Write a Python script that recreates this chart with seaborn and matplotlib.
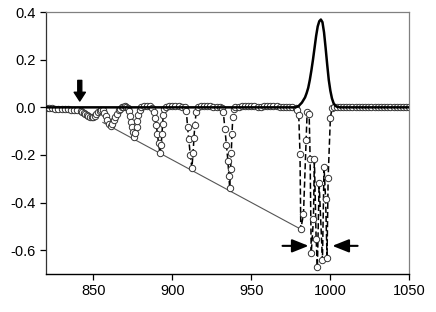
import numpy as np
import pandas as pd
import matplotlib
matplotlib.use("Agg")
import matplotlib.pyplot as plt
import seaborn as sns

# ── solid trace (peak near 994) ─────────────────────────────────────────────
solid_x = [820, 900, 978, 980, 982, 984, 985, 986, 987, 988, 989, 990, 991,
           992, 993, 994, 995, 996, 997, 998, 999, 1000, 1001, 1002, 1003,
           1004, 1006, 1050]
solid_y = [0.0, 0.0, 0.0, 0.006, 0.02, 0.042, 0.06, 0.082, 0.115, 0.155, 0.2,
           0.25, 0.3, 0.34, 0.362, 0.369, 0.358, 0.315, 0.25, 0.18, 0.115,
           0.07, 0.038, 0.018, 0.008, 0.003, 0.0, 0.0]

# ── dashed trace with open circles ──────────────────────────────────────────
dash_x = [820, 822, 824, 826, 828, 830, 832, 834, 836, 838, 840, 842,
          843, 844, 845, 846, 847, 848, 849, 850, 851, 852, 853, 854, 855,
          856, 857, 858, 859, 860, 861, 862, 863, 864, 865, 866, 867, 868,
          869, 870, 871, 872,
          872.8, 873.4, 874, 874.6, 875.2, 875.9, 876.7, 877.4, 878, 878.6, 879.3,
          880, 882, 884, 886, 887.5,
          888.3, 889.1, 889.9, 890.6, 891.3, 892.2, 893.0, 893.5, 893.9, 894.3, 895,
          896, 898, 900, 902, 904, 906, 908,
          908.9, 909.7, 910.4, 911.4, 912.4, 913.2, 913.7, 914.3, 915.1,
          916, 918, 920, 922, 924, 926, 928, 930, 931.5,
          932.3, 933.3, 934.3, 935.2, 935.8, 936.3, 936.9, 937.3, 937.8, 938.3, 939.2,
          940, 942, 944, 946, 948, 950, 952, 954, 956, 958, 960, 962, 964, 966,
          968, 970, 972, 974, 976, 978,
          979.0, 980.0, 980.8, 981.3, 983.0, 984.7, 985.3, 986.6, 987.2, 987.9,
          989.3, 989.9, 991.0, 991.8, 992.9, 995.0, 996.0, 997.0, 997.9, 998.6,
          1000.0, 1001.0,
          1002, 1004, 1006, 1008, 1010, 1012, 1014, 1016, 1018, 1020, 1022, 1024,
          1026, 1028, 1030, 1032, 1034, 1036, 1038, 1040, 1042, 1044, 1046, 1048,
          1050]
dash_y = [-0.002, -0.003, -0.004, -0.005, -0.006, -0.007, -0.008, -0.009,
          -0.010, -0.012, -0.013, -0.016,
          -0.019, -0.024, -0.029, -0.034, -0.038, -0.041, -0.042, -0.040,
          -0.035, -0.028, -0.020, -0.014, -0.010,
          -0.012, -0.022, -0.036, -0.054, -0.070, -0.077, -0.068, -0.054,
          -0.040, -0.026, -0.013, -0.005, 0.0,
          0.003, 0.004, 0.002, -0.002,
          -0.015, -0.035, -0.060, -0.082, -0.104, -0.126, -0.108, -0.084,
          -0.058, -0.032, -0.010,
          0.002, 0.005, 0.006, 0.004, -0.004,
          -0.020, -0.045, -0.075, -0.110, -0.150, -0.190, -0.158, -0.110,
          -0.070, -0.032, -0.008,
          0.002, 0.004, 0.005, 0.005, 0.004, 0.003, 0.0,
          -0.014, -0.084, -0.133, -0.200, -0.255, -0.190, -0.130, -0.075, -0.020,
          0.002, 0.004, 0.005, 0.005, 0.004, 0.003, 0.002, 0.0, -0.003,
          -0.020, -0.090, -0.160, -0.225, -0.290, -0.337, -0.260, -0.190,
          -0.110, -0.040, -0.008,
          0.002, 0.003, 0.004, 0.004, 0.005, 0.005, 0.004, 0.003, 0.003, 0.004,
          0.005, 0.005, 0.005, 0.004, 0.003, 0.002, 0.002, 0.001, 0.0, -0.004,
          -0.011, -0.032, -0.196, -0.512, -0.449, -0.137, -0.021, -0.028,
          -0.217, -0.613, -0.470, -0.215, -0.552, -0.671, -0.318, -0.642,
          -0.250, -0.386, -0.634, -0.295, -0.046, -0.003,
          0.0, 0.0, 0.0, 0.0, 0.0, 0.0, 0.0, 0.0, 0.0, 0.0, 0.0, 0.0,
          0.0, 0.0, 0.0, 0.0, 0.0, 0.0, 0.0, 0.0, 0.0, 0.0, 0.0, 0.0, 0.0]

# envelope through the dip minima
env_x = [856, 981.3]
env_y = [-0.063, -0.512]

x_ticks = [850, 900, 950, 1000, 1050]
y_ticks = [-0.6, -0.4, -0.2, 0.0, 0.2, 0.4]

sns.set_style("ticks")
plt.rcParams["font.family"] = ["Liberation Sans", "DejaVu Sans"]

fig = plt.figure(figsize=(4.36, 3.12), dpi=100)
ax = fig.add_axes([0.105, 0.122, 0.834, 0.839])

dash_df = pd.DataFrame({"x": dash_x, "y": dash_y})
solid_df = pd.DataFrame({"x": solid_x, "y": solid_y})
env_df = pd.DataFrame({"x": env_x, "y": env_y})

sns.lineplot(data=env_df, x="x", y="y", ax=ax, color="#555555", lw=0.8,
             zorder=1)
sns.lineplot(data=dash_df, x="x", y="y", ax=ax, sort=False, estimator=None,
             color="black", lw=1.1, linestyle=(0, (4, 2)),
             marker="o", markersize=4.6, markerfacecolor="white",
             markeredgecolor="#333333", markeredgewidth=0.7, zorder=2)
sns.lineplot(data=solid_df, x="x", y="y", ax=ax, sort=False, estimator=None,
             color="black", lw=1.8, zorder=3)

# arrows
ax.annotate("", xy=(841.5, 0.015), xytext=(841.5, 0.125),
            arrowprops=dict(arrowstyle="simple,head_width=0.9,head_length=0.7,tail_width=0.32",
                            color="black", mutation_scale=9))
ax.annotate("", xy=(988.0, -0.582), xytext=(968.0, -0.582),
            arrowprops=dict(arrowstyle="-|>,head_width=0.4,head_length=1.0",
                            color="black", lw=1.5, mutation_scale=10))
ax.annotate("", xy=(999.5, -0.582), xytext=(1019.0, -0.582),
            arrowprops=dict(arrowstyle="-|>,head_width=0.4,head_length=1.0",
                            color="black", lw=1.5, mutation_scale=10))

ax.set_xlim(820, 1050)
ax.set_ylim(-0.7, 0.4)
ax.set_xticks(x_ticks)
ax.set_yticks(y_ticks)
ax.set_yticklabels([f"{v:.1f}" for v in y_ticks])
ax.set_xlabel("")
ax.set_ylabel("")
ax.tick_params(direction="out", length=4, width=0.9, labelsize=10.5,
               colors="black", pad=3)
for side in ["top", "right"]:
    ax.spines[side].set_visible(True)
    ax.spines[side].set_color("#808080")
    ax.spines[side].set_linewidth(0.9)
ax.spines["left"].set_color("#333333")
ax.spines["bottom"].set_color("black")
ax.spines["left"].set_linewidth(0.9)
ax.spines["bottom"].set_linewidth(1.0)

fig.savefig("out.png", dpi=100)
